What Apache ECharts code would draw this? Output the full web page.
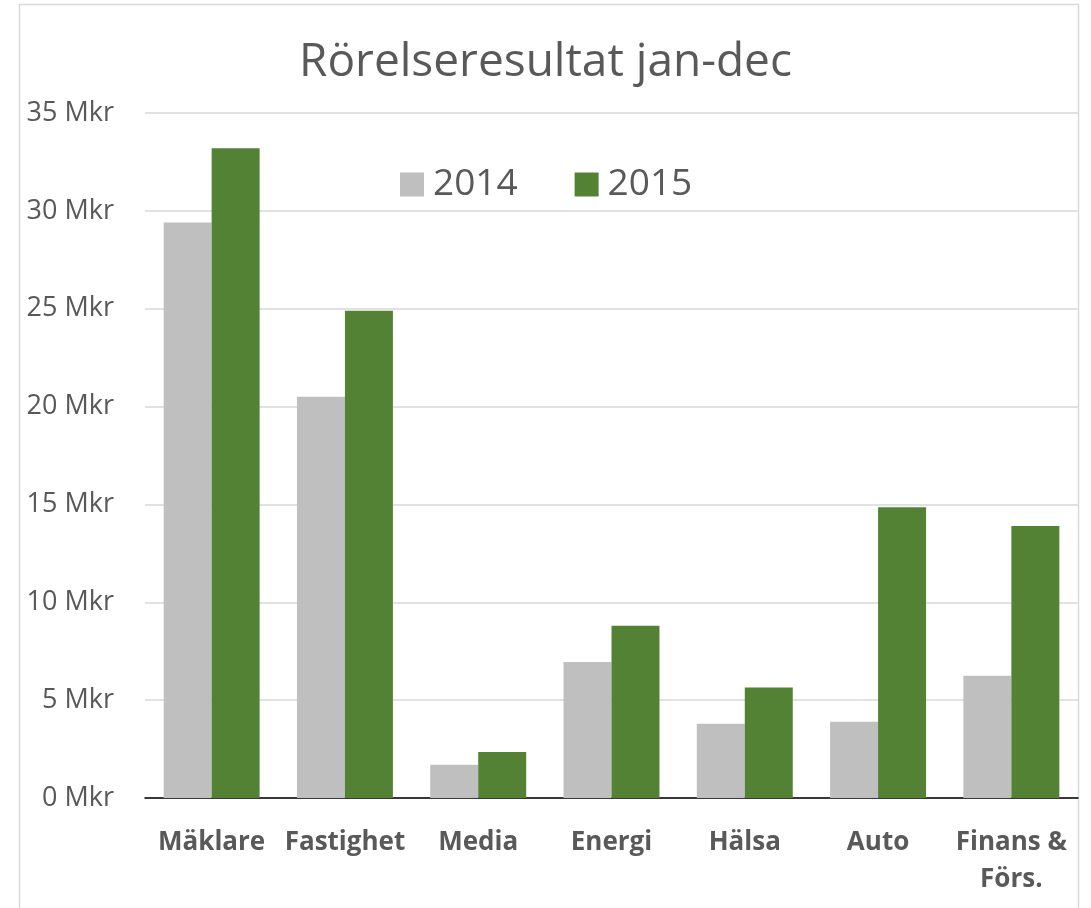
<!DOCTYPE html>
<html><head><meta charset="utf-8">
<script src="https://cdn.jsdelivr.net/npm/echarts@6/dist/echarts.min.js"></script>
<style>html,body{margin:0;padding:0;background:#fff}#c{width:1091px;height:908px}</style>
</head><body><div id="c"></div>
<script>
const categories = ['Mäklare', 'Fastighet', 'Media', 'Energi', 'Hälsa', 'Auto', 'Finans &\nFörs.'];
const values2014 = [29.4, 20.5, 1.7, 6.95, 3.8, 3.9, 6.25];
const values2015 = [33.2, 24.9, 2.35, 8.8, 5.65, 14.85, 13.9];
const seriesNames = ['2014', '2015'];
const titleText = 'Rörelseresultat jan-dec';
const FONT = '"Open Sans", sans-serif';
const chart = echarts.init(document.getElementById('c'));
chart.setOption({
  animation: false,
  backgroundColor: '#fff',
  textStyle: { fontFamily: FONT },
  graphic: [{ type: 'rect', z: -1, shape: { x: 19.5, y: 4.5, width: 1059, height: 1000 }, style: { fill: '#fff', stroke: '#d9d9d9', lineWidth: 1.5 } }],
  title: { text: titleText, left: 'center', top: 35, textStyle: { fontFamily: FONT, fontSize: 46, fontWeight: 'normal', color: '#595959' } },
  legend: {
    data: seriesNames, left: 395, top: 161, itemWidth: 24, itemHeight: 24, itemGap: 57,
    icon: 'rect',
    textStyle: { fontFamily: FONT, fontSize: 37, color: '#595959', padding: [0, 0, 0, 4] }
  },
  grid: { left: 145, right: 13, top: 113, bottom: 110 },
  xAxis: {
    type: 'category', data: categories,
    axisTick: { show: false },
    axisLine: { lineStyle: { color: '#000', width: 1.5 } },
    axisLabel: { margin: 26, fontFamily: FONT, fontSize: 26, fontWeight: 'bold', color: '#595959', lineHeight: 37, interval: 0 }
  },
  yAxis: {
    type: 'value', min: 0, max: 35, interval: 5,
    axisLine: { show: false }, axisTick: { show: false },
    splitLine: { lineStyle: { color: '#d9d9d9', width: 1.5 } },
    axisLabel: { formatter: '{value} Mkr', margin: 31, fontFamily: FONT, fontSize: 27, color: '#595959' }
  },
  series: [
    { name: seriesNames[0], type: 'bar', data: values2014, itemStyle: { color: '#bfbfbf' }, barGap: '0%', barCategoryGap: '28%' },
    { name: seriesNames[1], type: 'bar', data: values2015, itemStyle: { color: '#548235' }, barGap: '0%', barCategoryGap: '28%' }
  ]
});
</script></body></html>
